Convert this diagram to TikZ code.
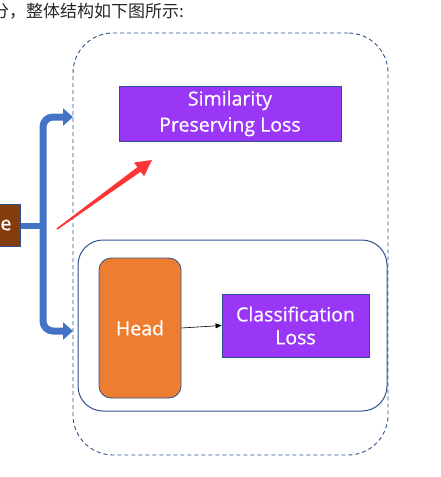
\documentclass[tikz,border=0pt]{standalone}
\usepackage{fontspec}
\setmainfont{Open Sans}
\newfontfamily\labelfont{Open Sans}[FakeBold=0.6]
\newfontfamily\cjk{Noto Sans CJK SC}
\usetikzlibrary{arrows.meta}
\definecolor{lossviolet}{HTML}{9A36F6}
\definecolor{headorange}{HTML}{ED7D31}
\definecolor{bbbrown}{HTML}{843C0C}
\definecolor{edgeblue}{HTML}{2F528F}
\definecolor{bracketblue}{HTML}{4472C4}
\definecolor{markred}{HTML}{FF3535}
\tikzset{
  lossbox/.style={draw=edgeblue, line width=0.8pt, fill=lossviolet, text=white, align=center, inner sep=0pt},
  headbox/.style={draw=edgeblue, line width=0.8pt, fill=headorange, text=white, rounded corners=12pt, font=\labelfont\fontsize{19.5}{24}\selectfont, inner sep=0pt},
  groupbox/.style={draw=edgeblue, line width=1pt, rounded corners=25pt, inner sep=0pt},
  outerbox/.style={draw=edgeblue, line width=0.9pt, dashed, dash pattern=on 4pt off 3pt, rounded corners=40pt, inner sep=0pt},
  bracket/.style={draw=bracketblue, line width=7pt, rounded corners=10pt},
}
\begin{document}
\begin{tikzpicture}[x=1pt,y=-1pt]
\useasboundingbox (0,0) rectangle (440,477);
\begin{scope}
\clip (0,0) rectangle (440,477);
% caption text
\node[anchor=west, font=\cjk\fontsize{17}{19}\selectfont, text=black!85, inner sep=0pt] (cap) at (-8,11.5) {分，整体结构如下图所示:};
% outer dashed frame
\node[outerbox, minimum width=315pt, minimum height=422pt] (outer) at (230.5,244) {};
% inner solid group
\node[groupbox, minimum width=309pt, minimum height=171pt] (group) at (232.5,325.5) {};
% boxes
\node[lossbox, font=\labelfont\fontsize{19.5}{26}\selectfont, minimum width=222pt, minimum height=55pt] (sim) at (230,113.5) {Similarity\\[0pt]Preserving Loss};
\node[headbox, minimum width=82pt, minimum height=140pt] (head) at (140,328) {Head};
\node[lossbox, font=\labelfont\fontsize{19.5}{23}\selectfont, minimum width=147pt, minimum height=63pt] (cls) at (295.5,325.5) {Classification\\Loss};
\node[fill=bbbrown, draw=edgeblue, line width=0.6pt, text=white, font=\labelfont\fontsize{19.5}{24}\selectfont, minimum width=41pt, minimum height=42pt, inner sep=0pt] (bb) at (0,225) {\hspace*{12pt}e};
% head -> classification
\draw[-{Triangle[length=6pt,width=5pt]}, line width=0.6pt, black] (head.east) -- (cls.west);
% bracket connector
\coordinate (split) at (43,226);
\coordinate (topend) at (73,117);
\coordinate (botend) at (73,331);
\draw[draw=bracketblue, line width=6.5pt] (bb.east |- split) -- (split);
\draw[bracket, {Triangle[length=10pt,width=17pt]}-{Triangle[length=10pt,width=17pt]}]
  (topend) -- (split |- topend) -- (split |- botend) -- (botend);
% red annotation arrow
\fill[markred] (57.47,229.65) -- (140.71,171.68) -- (144.06,176.29) -- (152,160) -- (134.06,162.53) -- (137.41,167.14) -- (56.53,228.35) -- cycle;
\end{scope}
\end{tikzpicture}
\end{document}
